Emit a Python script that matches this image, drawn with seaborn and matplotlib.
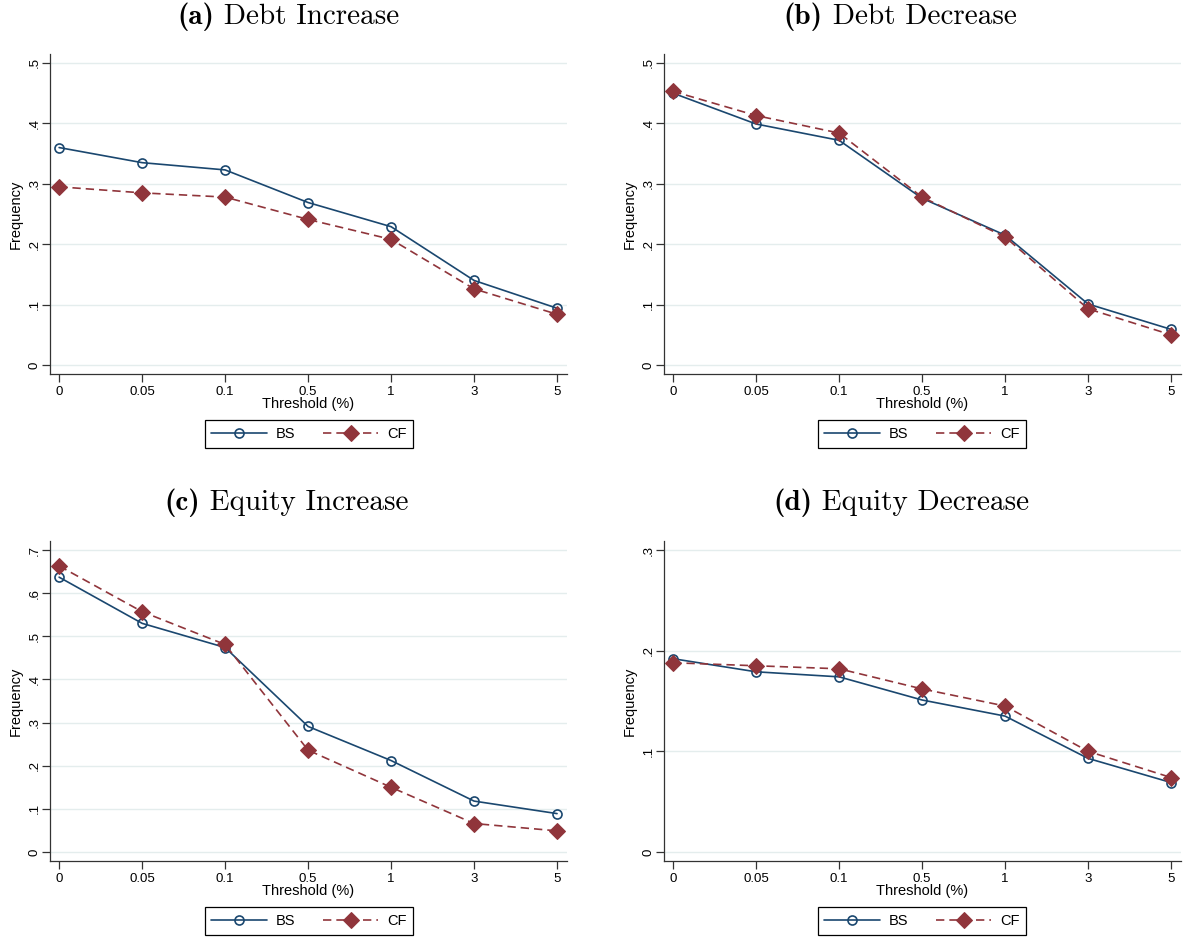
import numpy as np
import pandas as pd
import matplotlib
matplotlib.use("Agg")
import matplotlib.pyplot as plt
import seaborn as sns

# === Dati ===
thresholds = ["0", "0.05", "0.1", "0.5", "1", "3", "5"]

bs_debt_inc = [0.360, 0.335, 0.323, 0.269, 0.229, 0.140, 0.094]
cf_debt_inc = [0.295, 0.285, 0.278, 0.241, 0.208, 0.126, 0.084]

bs_debt_dec = [0.450, 0.399, 0.372, 0.276, 0.215, 0.101, 0.059]
cf_debt_dec = [0.453, 0.413, 0.384, 0.278, 0.212, 0.093, 0.050]

bs_eq_inc = [0.637, 0.530, 0.474, 0.291, 0.212, 0.118, 0.089]
cf_eq_inc = [0.663, 0.557, 0.481, 0.236, 0.150, 0.066, 0.049]

bs_eq_dec = [0.192, 0.179, 0.174, 0.151, 0.135, 0.093, 0.069]
cf_eq_dec = [0.188, 0.185, 0.182, 0.162, 0.145, 0.100, 0.074]

panel_titles = ["(a)", "(b)", "(c)", "(d)"]
panel_names = ["Debt Increase", "Debt Decrease", "Equity Increase", "Equity Decrease"]
y_ticks = [
    [0, 0.1, 0.2, 0.3, 0.4, 0.5],
    [0, 0.1, 0.2, 0.3, 0.4, 0.5],
    [0, 0.1, 0.2, 0.3, 0.4, 0.5, 0.6, 0.7],
    [0, 0.1, 0.2, 0.3],
]
y_tick_labels = [
    ["0", ".1", ".2", ".3", ".4", ".5"],
    ["0", ".1", ".2", ".3", ".4", ".5"],
    ["0", ".1", ".2", ".3", ".4", ".5", ".6", ".7"],
    ["0", ".1", ".2", ".3"],
]
series = [
    (bs_debt_inc, cf_debt_inc),
    (bs_debt_dec, cf_debt_dec),
    (bs_eq_inc, cf_eq_inc),
    (bs_eq_dec, cf_eq_dec),
]

# === Stile ===
sns.set_theme(style="white")
plt.rcParams["font.family"] = ["Liberation Sans", "DejaVu Sans"]
plt.rcParams["text.color"] = "black"
plt.rcParams["axes.labelcolor"] = "black"
plt.rcParams["xtick.color"] = "black"
plt.rcParams["ytick.color"] = "black"

navy = "#1a476f"
maroon = "#90353b"
grid_col = "#e4eded"

W, H = 1188, 938
fig = plt.figure(figsize=(W / 100, H / 100), dpi=100)
renderer = fig.canvas.get_renderer()

# posizioni in pixel: (sinistra, destra, alto, basso)
boxes = [
    (50, 567, 54, 374),
    (664, 1181, 54, 374),
    (50, 567, 541, 861),
    (664, 1181, 541, 861),
]
title_pos = [(288, 17), (900, 17), (286, 503), (901, 503)]
legend_pos = [(309, 434), (922, 434), (309, 921), (922, 921)]

x = np.arange(len(thresholds))

for i, (bs, cf) in enumerate(series):
    l, r, t, b = boxes[i]
    ax = fig.add_axes([l / W, 1 - b / H, (r - l) / W, (b - t) / H])

    df = pd.DataFrame({"pos": x, "BS": bs, "CF": cf})
    sns.lineplot(data=df, x="pos", y="BS", ax=ax, color=navy, lw=1.2,
                 marker="o", markersize=6.5, markerfacecolor="none",
                 markeredgecolor=navy, markeredgewidth=1.2, label="BS", zorder=3)
    sns.lineplot(data=df, x="pos", y="CF", ax=ax, color=maroon, lw=1.2,
                 linestyle=(0, (5, 3)), marker="D", markersize=8,
                 markerfacecolor=maroon, markeredgecolor=maroon, label="CF", zorder=4)

    ymax = y_ticks[i][-1]
    pad = 9 / 302 * ymax
    ax.set_ylim(-pad, ymax + pad)
    ax.set_xlim(-0.11, 6.12)

    ax.set_yticks(y_ticks[i])
    ax.set_yticklabels(y_tick_labels[i], rotation=90, va="center", fontsize=9.5)
    ax.set_xticks(x)
    ax.set_xticklabels(thresholds, fontsize=9.5)
    ax.tick_params(axis="both", direction="out", length=5.5, width=0.9,
                   color="#333333", bottom=True, left=True)
    ax.tick_params(axis="y", pad=1.5)
    ax.tick_params(axis="x", pad=3)

    for yt in y_ticks[i]:
        ax.axhline(yt, color=grid_col, lw=1.0, zorder=0)

    for side in ["top", "right"]:
        ax.spines[side].set_visible(False)
    for side in ["left", "bottom"]:
        ax.spines[side].set_color("#333333")
        ax.spines[side].set_linewidth(0.9)

    ax.set_xlabel("Threshold (%)", fontsize=10.5)
    ax.set_ylabel("Frequency", fontsize=10.5)
    ax.xaxis.set_label_coords(0.5, -23 / (b - t))
    ax.yaxis.set_label_coords(-27 / (r - l), 0.5)

    handles, labels = ax.get_legend_handles_labels()
    lx, ly = legend_pos[i]
    leg = ax.legend(handles, labels, loc="center", bbox_to_anchor=(lx / W, 1 - ly / H),
                    bbox_transform=fig.transFigure, ncol=2, frameon=True, fancybox=False,
                    edgecolor="black", fontsize=10.5, handlelength=3.8, columnspacing=1.9,
                    handletextpad=0.6, borderpad=0.45, borderaxespad=0, framealpha=1)
    leg.get_frame().set_linewidth(0.9)

    # titolo: "(a)" in grassetto + nome in tondo
    tx, ty = title_pos[i]
    t1 = fig.text(0, 1 - ty / H, panel_titles[i], ha="left", va="center",
                  fontsize=21, family="cmb10", color="black")
    t2 = fig.text(0, 1 - ty / H, " " + panel_names[i], ha="left", va="center",
                  fontsize=21, family="cmr10", color="black")
    w1 = t1.get_window_extent(renderer).width
    w2 = t2.get_window_extent(renderer).width
    x0 = tx - (w1 + w2) / 2
    t1.set_x(x0 / W)
    t2.set_x((x0 + w1) / W)

fig.savefig("out.png", dpi=100)
plt.close()
